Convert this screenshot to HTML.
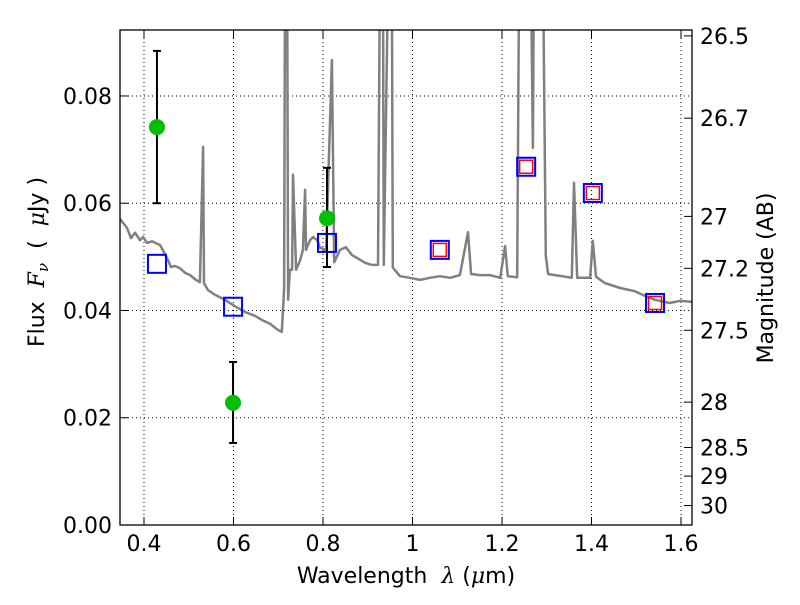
<!DOCTYPE html>
<html><head><meta charset="utf-8"><style>
body{margin:0;background:#fff}
svg text{font-family:"DejaVu Sans","Liberation Sans",sans-serif;fill:#000}
</style></head><body>
<svg id="c" width="800" height="600" xmlns="http://www.w3.org/2000/svg"></svg>
<script>
const specWave=[0.345,0.362,0.371,0.380,0.391,0.398,0.407,0.418,0.436,0.442,0.456,0.460,0.469,0.480,0.492,0.503,0.516,0.525,0.532,0.534,0.543,0.559,0.581,0.603,0.626,0.648,0.664,0.682,0.699,0.708,0.713,0.715,0.720,0.722,0.726,0.731,0.733,0.740,0.749,0.755,0.760,0.762,0.771,0.778,0.787,0.793,0.807,0.820,0.825,0.838,0.851,0.865,0.876,0.894,0.909,0.923,0.927,0.934,0.936,0.945,0.954,0.956,0.972,0.994,1.017,1.039,1.061,1.084,1.106,1.124,1.131,1.151,1.173,1.196,1.207,1.213,1.234,1.238,1.242,1.265,1.269,1.271,1.292,1.298,1.303,1.318,1.334,1.356,1.361,1.368,1.397,1.403,1.410,1.430,1.464,1.497,1.520,1.542,1.575,1.598,1.625];
const specFlux=[0.0572,0.0554,0.0535,0.0545,0.0531,0.0537,0.0526,0.0529,0.0522,0.0513,0.0490,0.0481,0.0483,0.0479,0.0470,0.0466,0.0457,0.0453,0.0705,0.0451,0.0438,0.0429,0.0420,0.0408,0.0397,0.0390,0.0382,0.0375,0.0364,0.0360,0.0440,0.1,0.1,0.0420,0.0476,0.0476,0.0653,0.0476,0.0494,0.0513,0.0625,0.0513,0.0531,0.0537,0.0531,0.0517,0.0513,0.0867,0.0490,0.0513,0.0518,0.0503,0.0498,0.0489,0.0485,0.0485,0.1,0.1,0.0485,0.1,0.1,0.0480,0.0464,0.0461,0.0457,0.0461,0.0464,0.0461,0.0466,0.0546,0.0468,0.0466,0.0466,0.0461,0.0520,0.0464,0.0462,0.1,0.1,0.1,0.0703,0.1,0.1,0.0502,0.0468,0.0466,0.0464,0.0461,0.0638,0.0461,0.0461,0.0530,0.0463,0.0451,0.0442,0.0436,0.0427,0.0420,0.0414,0.0418,0.0416];
const detWave=[0.429,0.599,0.809];
const detFlux=[0.0742,0.0228,0.0572];
const detLo=[0.0600,0.0153,0.0481];
const detHi=[0.0884,0.0304,0.0666];
const modWave=[0.429,0.599,0.809,1.061,1.254,1.403,1.542];
const modFlux=[0.0487,0.0407,0.0526,0.0513,0.0668,0.0619,0.0414];
const redIdx=[3,4,5,6];
const xTicks=[0.4,0.6,0.8,1.0,1.2,1.4,1.6];
const xTickLabels=["0.4","0.6","0.8","1","1.2","1.4","1.6"];
const yTicks=[0,0.02,0.04,0.06,0.08];
const yTickLabels=["0.00","0.02","0.04","0.06","0.08"];
const magTicks=[26.5,26.7,27,27.2,27.5,28,28.5,29,30];
const magLabels=["26.5","26.7","27","27.2","27.5","28","28.5","29","30"];

const L=120,R=692,T=30,B=525,x0=0.3464,x1=1.6246,y0=0,y1=0.0923;
const X=v=>L+(v-x0)/(x1-x0)*(R-L);
const Y=v=>B-(v-y0)/(y1-y0)*(B-T);
const svg=document.getElementById('c');
const NS='http://www.w3.org/2000/svg';
function mk(tag,at,parent){const e=document.createElementNS(NS,tag);for(const k in at)e.setAttribute(k,at[k]);(parent||svg).appendChild(e);return e;}

const defs=mk('defs',{});const cp=mk('clipPath',{id:'pc'},defs);mk('rect',{x:L,y:T,width:R-L,height:B-T},cp);

xTicks.forEach(t=>{const g=mk('line',{x1:X(t),x2:X(t),y1:T,y2:B,stroke:'#000','stroke-width':1,'stroke-dasharray':'1,3'});

});
yTicks.forEach(t=>{const g=mk('line',{x1:L,x2:R,y1:Y(t),y2:Y(t),stroke:'#000','stroke-width':1,'stroke-dasharray':'1,3'});

});

const pts=specWave.map((w,i)=>X(w).toFixed(1)+','+Y(specFlux[i]).toFixed(1)).join(' ');
const sp=mk('polyline',{points:pts,fill:'none',stroke:'#808080','stroke-width':2.5,'clip-path':'url(#pc)','stroke-linejoin':'round'});



modWave.forEach((w,i)=>{const r=mk('rect',{x:X(w)-9,y:Y(modFlux[i])-9,width:18,height:18,fill:'none',stroke:'#0000ff','stroke-width':2});

});
redIdx.forEach(i=>{const r=mk('rect',{x:X(modWave[i])-6.5,y:Y(modFlux[i])-6.5,width:13,height:13,fill:'none',stroke:'#ff0000','stroke-width':1.5});

});

detWave.forEach((w,i)=>{const x=X(w);
const e=mk('line',{x1:x,x2:x,y1:Y(detLo[i]),y2:Y(detHi[i]),stroke:'#000','stroke-width':2});


[detLo[i],detHi[i]].forEach(v=>{const c=mk('line',{x1:x-4,x2:x+4,y1:Y(v),y2:Y(v),stroke:'#000','stroke-width':2});

});
const d=mk('circle',{cx:x,cy:Y(detFlux[i]),r:8,fill:'#00bf00'});

});

const fr=mk('rect',{x:L,y:T,width:R-L,height:B-T,fill:'none',stroke:'#000','stroke-width':1.3});



xTicks.forEach((t,i)=>{const x=X(t);
mk('line',{x1:x,x2:x,y1:B,y2:B-8,stroke:'#000'});mk('line',{x1:x,x2:x,y1:T,y2:T+8,stroke:'#000'});
const tx=mk('text',{x:x,y:B+26,'text-anchor':'middle','font-size':22});tx.textContent=xTickLabels[i];

});
yTicks.forEach((t,i)=>{const y=Y(t);
mk('line',{x1:L,x2:L+8,y1:y,y2:y,stroke:'#000'});
const tx=mk('text',{x:L-8,y:y+8,'text-anchor':'end','font-size':22});tx.textContent=yTickLabels[i];

});
magTicks.forEach((m,i)=>{const y=Y(Math.pow(10,(23.9-m)/2.5));
mk('line',{x1:R,x2:R-8,y1:y,y2:y,stroke:'#000'});
const tx=mk('text',{x:R+8,y:y+8,'text-anchor':'start','font-size':22});tx.textContent=magLabels[i];

});
</script>
<svg width="800" height="600" style="position:absolute;left:0;top:0" xmlns="http://www.w3.org/2000/svg">
<text x="406" y="583" text-anchor="middle" font-size="22">Wavelength&#160; <tspan font-style="italic" font-family="DejaVu Serif,serif">λ</tspan> (<tspan font-style="italic" font-family="DejaVu Serif,serif">μ</tspan>m)</text>
<text transform="translate(44,262) rotate(-90)" text-anchor="middle" font-size="22">Flux&#160; <tspan font-style="italic" font-family="DejaVu Serif,serif">F</tspan><tspan font-style="italic" font-family="DejaVu Serif,serif" font-size="15" dy="4">ν</tspan><tspan dy="-4">&#160; (&#160; </tspan><tspan font-style="italic" font-family="DejaVu Serif,serif">μ</tspan>Jy )</text>
<text transform="translate(773,278) rotate(-90)" text-anchor="middle" font-size="22">Magnitude (AB)</text>
</svg>
</body></html>
